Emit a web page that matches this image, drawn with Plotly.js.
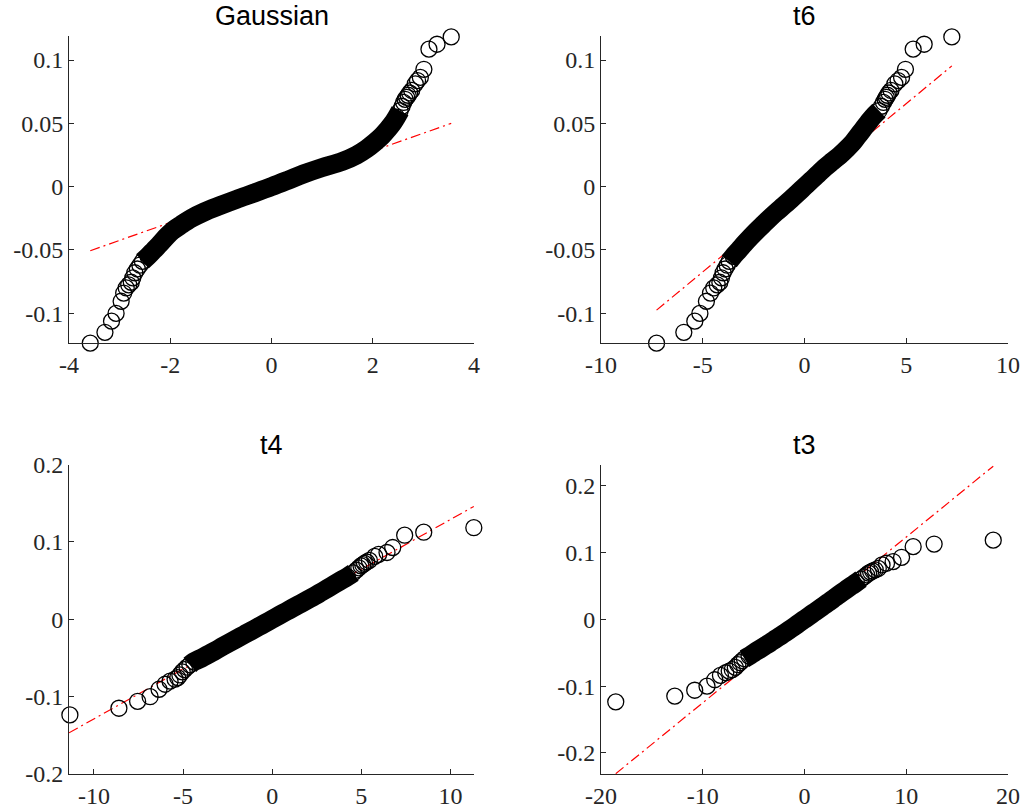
<!DOCTYPE html>
<html>
<head>
<meta charset="utf-8">
<script src="https://cdn.plot.ly/plotly-3.0.1.min.js"></script>
<style>html,body{margin:0;padding:0;background:#fff;}#chart{width:1025px;height:812px;}</style>
</head>
<body>
<div id="chart"></div>
<script>
// Sample quantiles (same sorted data in all four panels)
const sampleQuantiles = [-0.1236, -0.1150, -0.1062, -0.1001, -0.0905, -0.0840, -0.0800, -0.0775, -0.0755, -0.0720, -0.0680, -0.0650, -0.0620, -0.0590,
  -0.055, -0.050, -0.045, -0.040, -0.035, -0.030, -0.025, -0.020, -0.015, -0.010, -0.005, 0, 0.005, 0.010, 0.015, 0.020, 0.025, 0.030, 0.035, 0.040, 0.045, 0.050, 0.055,
  0.0600, 0.0635, 0.0665, 0.0690, 0.0705, 0.0722, 0.0740, 0.0760, 0.0812, 0.0838, 0.0863, 0.0927, 0.1086, 0.1125, 0.1183];

// Theoretical quantiles
const gaussX = [-3.58, -3.29, -3.16, -3.07, -2.97, -2.92, -2.87, -2.82, -2.77, -2.74, -2.70, -2.65, -2.60, -2.55,
  -2.44, -2.32, -2.20, -2.09, -1.96, -1.78, -1.58, -1.33, -1.02, -0.69, -0.34, 0, 0.32, 0.63, 0.99, 1.40, 1.68, 1.88, 2.04, 2.18, 2.29, 2.39, 2.47,
  2.54, 2.58, 2.61, 2.64, 2.67, 2.70, 2.73, 2.77, 2.84, 2.885, 2.94, 3.01, 3.11, 3.27, 3.55];
const t6X = [-7.27, -5.93, -5.39, -5.14, -4.82, -4.62, -4.46, -4.29, -4.16, -4.08, -4.00, -3.90, -3.80, -3.70,
  -3.50, -3.22, -2.95, -2.66, -2.36, -2.04, -1.72, -1.38, -1.02, -0.67, -0.33, 0, 0.33, 0.67, 1.00, 1.37, 1.75, 2.08, 2.38, 2.62, 2.86, 3.10, 3.35,
  3.66, 3.78, 3.88, 3.96, 4.02, 4.08, 4.15, 4.25, 4.44, 4.60, 4.77, 4.96, 5.34, 5.88, 7.24];
const t4X = [-11.35, -8.6, -7.55, -6.85, -6.35, -6.01, -5.73, -5.45, -5.30, -5.18, -5.05, -4.92, -4.78, -4.62,
  -4.40, -3.95, -3.55, -3.15, -2.77, -2.38, -1.98, -1.58, -1.18, -0.79, -0.39, 0, 0.39, 0.79, 1.18, 1.58, 1.98, 2.38, 2.75, 3.12, 3.48, 3.85, 4.22,
  4.55, 4.72, 4.86, 4.98, 5.08, 5.18, 5.30, 5.45, 5.75, 5.97, 6.44, 6.76, 7.43, 8.5, 11.31];
const t3X = [-18.55, -12.75, -10.79, -9.58, -8.82, -8.26, -7.74, -7.40, -7.10, -6.80, -6.55, -6.33, -6.12, -5.90,
  -5.45, -4.95, -4.42, -3.90, -3.38, -2.88, -2.38, -1.88, -1.40, -0.93, -0.46, 0, 0.46, 0.93, 1.40, 1.86, 2.32, 2.78, 3.22, 3.68, 4.15, 4.62, 5.10,
  5.55, 5.85, 6.10, 6.30, 6.50, 6.70, 6.95, 7.25, 7.62, 8.06, 8.71, 9.54, 10.68, 12.74, 18.55];

// Reference lines (endpoints)
const gaussLineX = [-3.58, 3.55], gaussLineY = [-0.0506, 0.0500];
const t6LineX = [-7.27, 7.24], t6LineY = [-0.0975, 0.0954];
const t4LineX = [-11.4, 11.31], t4LineY = [-0.1468, 0.1458];
const t3LineX = [-18.55, 18.55], t3LineY = [-0.231, 0.229];

const panelTitles = ['Gaussian', 't6', 't4', 't3'];

// Ticks
const xTicks1 = [-4, -2, 0, 2, 4], xText1 = ['-4', '-2', '0', '2', '4'];
const xTicks2 = [-10, -5, 0, 5, 10], xText2 = ['-10', '-5', '0', '5', '10'];
const xTicks3 = [-10, -5, 0, 5, 10], xText3 = ['-10', '-5', '0', '5', '10'];
const xTicks4 = [-20, -10, 0, 10, 20], xText4 = ['-20', '-10', '0', '10', '20'];
const yTicksTop = [-0.1, -0.05, 0, 0.05, 0.1], yTextTop = ['-0.1', '-0.05', '0', '0.05', '0.1'];
const yTicksBot = [-0.2, -0.1, 0, 0.1, 0.2], yTextBot = ['-0.2', '-0.1', '0', '0.1', '0.2'];

const denseStart = 13, denseEnd = 38;

const panels = [
  {x: gaussX, lx: gaussLineX, ly: gaussLineY, xa: 'x', ya: 'y'},
  {x: t6X, lx: t6LineX, ly: t6LineY, xa: 'x2', ya: 'y2'},
  {x: t4X, lx: t4LineX, ly: t4LineY, xa: 'x3', ya: 'y3'},
  {x: t3X, lx: t3LineX, ly: t3LineY, xa: 'x4', ya: 'y4'}
];

const traces = [];
panels.forEach(p => {
  traces.push({type: 'scatter', mode: 'lines', x: p.lx, y: p.ly, xaxis: p.xa, yaxis: p.ya,
    line: {color: '#ff0000', width: 1.2, dash: '10px,4px,2px,4px'}, hoverinfo: 'skip', cliponaxis: false});
  traces.push({type: 'scatter', mode: 'lines', x: p.x.slice(denseStart, denseEnd), y: sampleQuantiles.slice(denseStart, denseEnd),
    xaxis: p.xa, yaxis: p.ya, line: {color: '#000', width: 19, shape: 'spline'}, hoverinfo: 'skip'});
  traces.push({type: 'scatter', mode: 'markers', x: p.x, y: sampleQuantiles, xaxis: p.xa, yaxis: p.ya,
    marker: {symbol: 'circle-open', size: 16, color: '#000', line: {width: 1.3}}, cliponaxis: false});
});

const tickFont = {family: '"Liberation Serif", "DejaVu Serif", serif', size: 24, color: '#262626'};
function ax(domain, range, tv, tt, anchor) {
  return {domain: domain, range: range, tickvals: tv, ticktext: tt, anchor: anchor,
    showline: true, linecolor: '#262626', linewidth: 1, ticks: 'inside', ticklen: 5, tickcolor: '#262626', tickwidth: 1,
    showgrid: false, zeroline: false, mirror: false, tickfont: tickFont, fixedrange: true};
}
const xd1 = [69/1025, 474/1025], xd2 = [601/1025, 1008/1025];
const ydTop = [1 - 343.3/812, 1 - 36/812], ydBot = [1 - 774/812, 1 - 464.5/812];

const titleFont = {family: '"Liberation Sans", Arial, sans-serif', size: 27, color: '#000'};
const layout = {
  width: 1025, height: 812, margin: {l: 0, r: 0, t: 0, b: 0},
  paper_bgcolor: '#fff', plot_bgcolor: '#fff', showlegend: false,
  xaxis: ax(xd1, [-4, 4], xTicks1, xText1, 'y'),
  yaxis: ax(ydTop, [-0.1237, 0.119], yTicksTop, yTextTop, 'x'),
  xaxis2: ax(xd2, [-10, 10], xTicks2, xText2, 'y2'),
  yaxis2: ax(ydTop, [-0.1237, 0.119], yTicksTop, yTextTop, 'x2'),
  xaxis3: ax(xd1, [-11.4, 11.32], xTicks3, xText3, 'y3'),
  yaxis3: ax(ydBot, [-0.2, 0.2], yTicksBot, yTextBot, 'x3'),
  xaxis4: ax(xd2, [-20, 20], xTicks4, xText4, 'y4'),
  yaxis4: ax(ydBot, [-0.2315, 0.2315], yTicksBot, yTextBot, 'x4'),
  annotations: [
    {text: panelTitles[0], x: (xd1[0] + xd1[1]) / 2, y: 1 - 16/812},
    {text: panelTitles[1], x: (xd2[0] + xd2[1]) / 2, y: 1 - 16/812},
    {text: panelTitles[2], x: (xd1[0] + xd1[1]) / 2, y: 1 - 445/812},
    {text: panelTitles[3], x: (xd2[0] + xd2[1]) / 2, y: 1 - 445/812}
  ].map(a => Object.assign(a, {xref: 'paper', yref: 'paper', showarrow: false, xanchor: 'center', yanchor: 'middle', font: titleFont}))
};

Plotly.newPlot('chart', traces, layout, {staticPlot: true, displayModeBar: false});
</script>
</body>
</html>
